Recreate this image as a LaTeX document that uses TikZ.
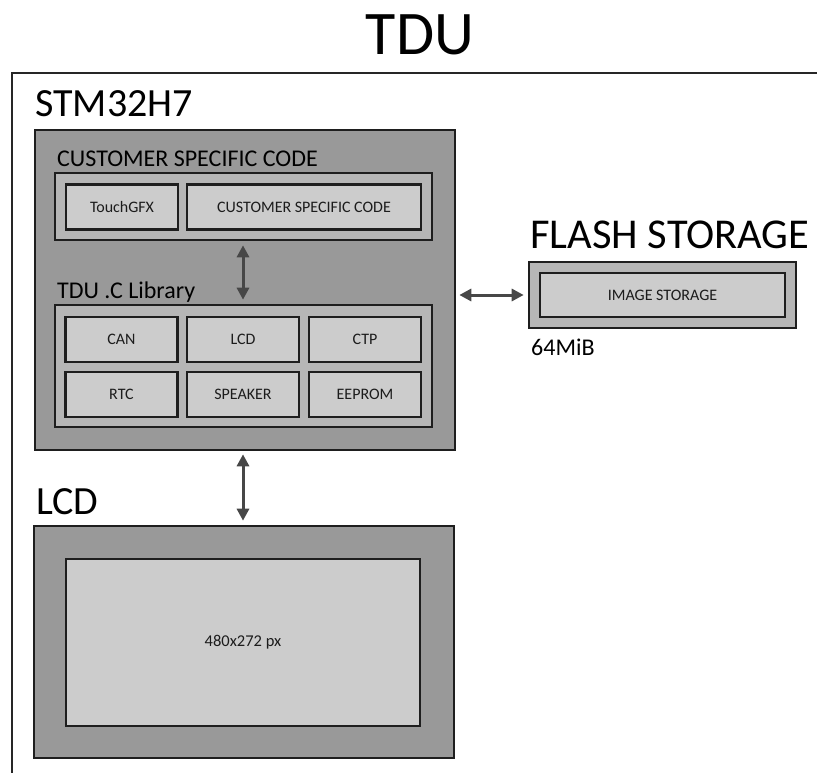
\documentclass[tikz,border=0pt]{standalone}
\usepackage{fontspec}
\setmainfont{Carlito}
\usetikzlibrary{arrows.meta}
\definecolor{darkfill}{HTML}{999999}
\definecolor{midfill}{HTML}{B6B6B6}
\definecolor{lightfill}{HTML}{CCCCCC}
\definecolor{edgegray}{HTML}{1E1E1E}
\definecolor{arrowgray}{HTML}{474747}
\definecolor{textgray}{HTML}{1C1C1C}
\newcommand{\fsz}[1]{\fontsize{#1}{#1}\selectfont}

\begin{document}
\begin{tikzpicture}[x=1pt,y=-1pt,
  blk/.style={draw=edgegray, line width=2.6pt, inner sep=0pt, rectangle, text=textgray, font=\fsz{16}},
  outerblk/.style={blk, fill=darkfill},
  groupblk/.style={blk, fill=midfill},
  unitblk/.style={blk, fill=lightfill, minimum width=112, minimum height=45},
  title/.style={anchor=base west, inner sep=0pt, text=black},
  link/.style={draw=arrowgray, line width=3pt, {Triangle[width=12pt,length=12pt]}-{Triangle[width=12pt,length=12pt]}}]
\useasboundingbox (0,0) rectangle (817,773);
% frame
\draw [draw=black!85, line width=1.8pt] (12,773) -- (12,73) -- (817,73);
\node [anchor=base, inner sep=0pt, font=\fsz{62}] (tdu) at (420,55) {TDU};

% STM32H7
\node [title, font=\fsz{40}] (stmlbl) at (35,117) {STM32H7};
\node [outerblk, minimum width=420, minimum height=320] (stm) at (245,290) {};
\node [title, font=\fsz{24}] (custlbl) at (57,167) {CUSTOMER SPECIFIC CODE};
\node [groupblk, minimum width=377, minimum height=67] (cust) at (243.5,206.5) {};
\node [unitblk] (touch) at (122,207) {TouchGFX};
\node [unitblk, minimum width=234] (code) at (304,207) {CUSTOMER SPECIFIC CODE};
\node [title, font=\fsz{24}] (liblbl) at (57,298) {TDU .C Library};
\node [groupblk, minimum width=377, minimum height=122] (lib) at (243.5,366) {};
\node [unitblk] (can) at (121.5,339.5) {CAN};
\node [unitblk] (lcddrv) at (243,339.5) {LCD};
\node [unitblk] (ctp) at (365,339.5) {CTP};
\node [unitblk] (rtc) at (121.5,394.5) {RTC};
\node [unitblk] (speaker) at (243,394.5) {SPEAKER};
\node [unitblk] (eeprom) at (365,394.5) {EEPROM};

% flash
\node [title, font=\fsz{42.5}] (flashlbl) at (530,248) {FLASH STORAGE};
\node [groupblk, minimum width=267, minimum height=66] (flash) at (662.5,295) {};
\node [unitblk, minimum width=245, minimum height=44] (img) at (662.5,295) {IMAGE STORAGE};
\node [title, font=\fsz{24}] (sizelbl) at (531,355) {64MiB};

% display
\node [title, font=\fsz{40}] (lcdlbl) at (36,514) {LCD};
\node [outerblk, minimum width=420, minimum height=232] (lcd) at (244,642) {};
\node [unitblk, font=\fsz{16.5}, minimum width=354, minimum height=167] (panel) at (243,642.5) {480x272 px};

% links
\draw [link, shorten <=4pt, shorten >=4pt] (cust.south -| lcddrv) -- (lib.north -| lcddrv);
\draw [link, shorten <=3pt, shorten >=4pt] (stm.east |- flash) -- (flash.west);
\draw [link, shorten <=3pt, shorten >=4pt] (stm.south -| lcddrv) -- (lcd.north -| lcddrv);
\end{tikzpicture}
\end{document}
